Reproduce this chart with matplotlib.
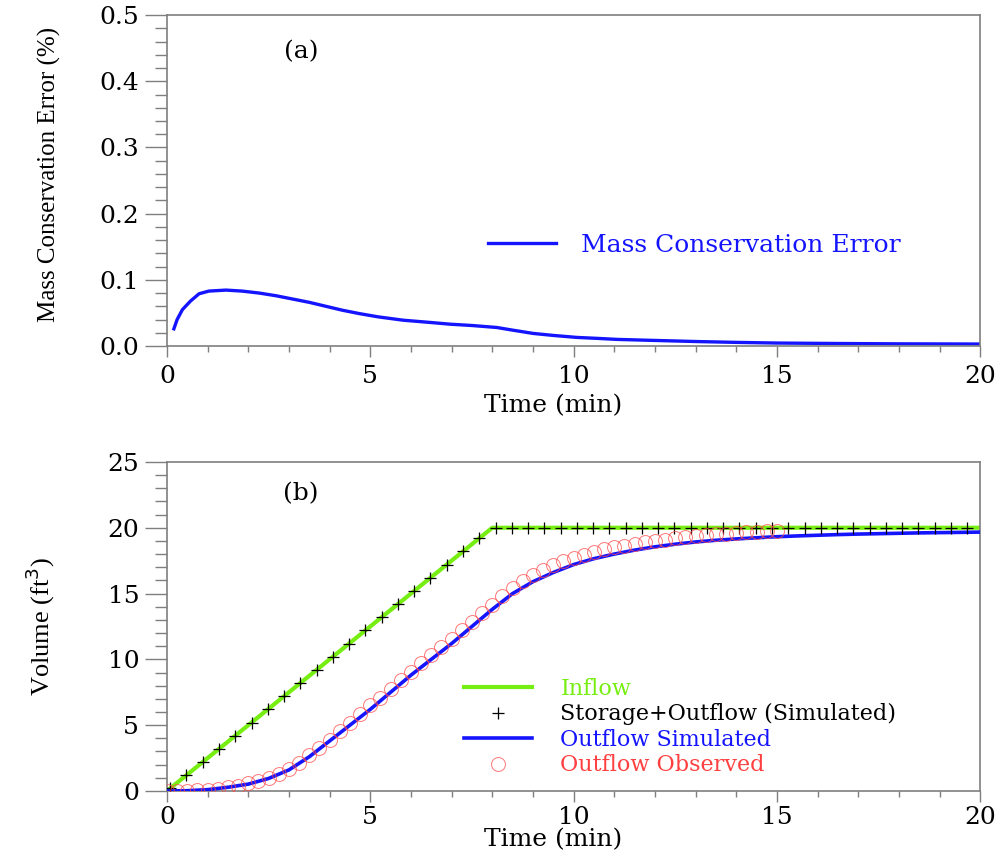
import matplotlib
matplotlib.use("Agg")
import matplotlib.pyplot as plt
from matplotlib.ticker import MultipleLocator

# panel (a): mass conservation error (%)
err_time = [0.17, 0.25, 0.38, 0.58, 0.79, 1.03, 1.45, 1.85, 2.27, 2.68, 3.09, 3.5, 3.91,
            4.32, 4.73, 5.2, 5.81, 6.4, 6.96, 7.5, 8.11, 8.5, 9.01, 9.5, 10.08, 10.6, 11.07,
            11.9, 13.0, 14.0, 15.0, 16.5, 18.0, 20.0]
err_value = [0.026, 0.04, 0.055, 0.068, 0.079, 0.083, 0.0845, 0.083, 0.080, 0.076, 0.071,
             0.066, 0.060, 0.054, 0.049, 0.044, 0.039, 0.036, 0.033, 0.031, 0.028, 0.024,
             0.019, 0.016, 0.013, 0.0115, 0.010, 0.0086, 0.0068, 0.0055, 0.0045, 0.0038,
             0.0033, 0.003]

# panel (b): volumes (ft^3)
inflow_time = [0, 8, 20]
inflow_vol = [0, 20, 20]

stor_time = [0.08, 0.48, 0.88, 1.28, 1.68, 2.08, 2.48, 2.88, 3.28, 3.68, 4.08, 4.48, 4.88,
             5.28, 5.68, 6.08, 6.48, 6.88, 7.28, 7.68, 8.08, 8.48, 8.88, 9.28, 9.68, 10.08,
             10.48, 10.88, 11.28, 11.68, 12.08, 12.48, 12.88, 13.28, 13.68, 14.08, 14.48,
             14.88, 15.28, 15.68, 16.08, 16.48, 16.88, 17.28, 17.68, 18.08, 18.48, 18.88,
             19.28, 19.68]
stor_vol = [0.2, 1.2, 2.2, 3.2, 4.2, 5.2, 6.2, 7.2, 8.2, 9.2, 10.2, 11.2, 12.2, 13.2, 14.2,
            15.2, 16.2, 17.2, 18.2, 19.2, 20.0, 20.0, 20.0, 20.0, 20.0, 20.0, 20.0, 20.0,
            20.0, 20.0, 20.0, 20.0, 20.0, 20.0, 20.0, 20.0, 20.0, 20.0, 20.0, 20.0, 20.0,
            20.0, 20.0, 20.0, 20.0, 20.0, 20.0, 20.0, 20.0, 20.0]

sim_time = [0, 0.5, 1, 1.5, 2, 2.5, 3, 3.5, 4, 4.5, 5, 5.5, 6, 6.5, 7, 7.5, 8, 8.5, 9, 9.5,
            10, 10.5, 11, 11.5, 12, 12.5, 13, 13.5, 14, 14.5, 15, 15.5, 16, 16.5, 17, 17.5,
            18, 18.5, 19, 19.5, 20]
sim_vol = [0, 0.02, 0.1, 0.28, 0.52, 0.95, 1.6, 2.6, 3.8, 5.0, 6.2, 7.5, 8.8, 10.0, 11.2,
           12.5, 13.8, 15.0, 15.9, 16.6, 17.2, 17.65, 18.0, 18.3, 18.55, 18.75, 18.92, 19.05,
           19.15, 19.24, 19.32, 19.38, 19.43, 19.48, 19.52, 19.55, 19.58, 19.61, 19.63,
           19.65, 19.67]

obs_time = [0, 0.25, 0.5, 0.75, 1, 1.25, 1.5, 1.75, 2, 2.25, 2.5, 2.75, 3, 3.25, 3.5, 3.75,
            4, 4.25, 4.5, 4.75, 5, 5.25, 5.5, 5.75, 6, 6.25, 6.5, 6.75, 7, 7.25, 7.5, 7.75,
            8, 8.25, 8.5, 8.75, 9, 9.25, 9.5, 9.75, 10, 10.25, 10.5, 10.75, 11, 11.25, 11.5,
            11.75, 12, 12.25, 12.5, 12.75, 13, 13.25, 13.5, 13.75, 14, 14.25, 14.5, 14.75, 15]
obs_vol = [0, 0, 0.02, 0.05, 0.1, 0.17, 0.28, 0.4, 0.58, 0.78, 1.02, 1.3, 1.7, 2.15, 2.7,
           3.3, 3.9, 4.55, 5.2, 5.85, 6.5, 7.1, 7.75, 8.4, 9.05, 9.7, 10.3, 10.95, 11.55,
           12.2, 12.85, 13.5, 14.15, 14.8, 15.4, 15.95, 16.4, 16.8, 17.15, 17.45, 17.7,
           17.95, 18.15, 18.35, 18.5, 18.65, 18.8, 18.9, 19.0, 19.1, 19.2, 19.3, 19.35,
           19.42, 19.5, 19.55, 19.6, 19.65, 19.7, 19.72, 19.75]

plt.rcParams['font.family'] = ['DejaVu Serif']
spineColor = '#7f7f7f'
blue = '#1414ff'
green = '#77ee11'

fig = plt.figure(figsize=(10.04, 8.55), dpi=100)
axA = fig.add_axes([0.1663, 0.5953, 0.810, 0.387])
axB = fig.add_axes([0.1663, 0.0749, 0.810, 0.3848])


def style_axes(ax, xpad):
    for spine in ax.spines.values():
        spine.set_edgecolor(spineColor)
        spine.set_linewidth(1.2)
    ax.xaxis.set_major_locator(MultipleLocator(5))
    ax.xaxis.set_minor_locator(MultipleLocator(1))
    ax.tick_params(axis='y', which='major', direction='out', length=16, width=1, color=spineColor, labelsize=18, pad=4)
    ax.tick_params(axis='y', which='minor', direction='out', length=9, width=1, color=spineColor)
    ax.tick_params(axis='x', which='major', direction='out', length=8, width=1, color=spineColor, labelsize=18, pad=xpad)
    ax.tick_params(axis='x', which='minor', direction='out', length=4, width=1, color=spineColor)
    ax.set_xlim(0, 20)
    ax.set_xlabel('Time (min)', fontsize=18)


# Panel (a)
style_axes(axA, 6)
axA.set_ylim(0, 0.5)
axA.yaxis.set_major_locator(MultipleLocator(0.1))
axA.yaxis.set_minor_locator(MultipleLocator(0.02))
axA.yaxis.set_major_formatter(plt.FormatStrFormatter('%.1f'))
axA.plot(err_time, err_value, color=blue, lw=2.4, label='Mass Conservation Error')
axA.set_ylabel('Mass Conservation Error (%)', family='Liberation Serif', fontsize=18)
axA.yaxis.set_label_coords(-0.13, 0.52)
axA.xaxis.set_label_coords(0.475, -0.145)
axA.text(3.3, 0.445, '(a)', fontsize=18, ha='center', va='center')
axA.legend(loc='upper left', bbox_to_anchor=(0.367, 0.408), frameon=False, fontsize=18,
           handlelength=2.72, handletextpad=1.0, labelcolor=[blue])

# Panel (b)
style_axes(axB, 3)
axB.set_ylim(0, 25)
axB.yaxis.set_major_locator(MultipleLocator(5))
axB.yaxis.set_minor_locator(MultipleLocator(1))
axB.plot(inflow_time, inflow_vol, color=green, lw=3, label='Inflow', zorder=2)
axB.plot(stor_time, stor_vol, linestyle='none', marker='+', markersize=9, markeredgewidth=0.9,
         color='black', label='Storage+Outflow (Simulated)', zorder=4)
axB.plot(sim_time, sim_vol, color=blue, lw=2.6, label='Outflow Simulated', zorder=3)
axB.plot(obs_time, obs_vol, linestyle='none', marker='o', markersize=10, fillstyle='none',
         markeredgewidth=0.7, color='#ff4a4a', alpha=0.75, label='Outflow Observed', zorder=5)
axB.set_ylabel('Volume (ft$^3$)', family='Liberation Serif', fontsize=19)
axB.yaxis.set_label_coords(-0.135, 0.5)
axB.xaxis.set_label_coords(0.475, -0.113)
axB.text(3.3, 22.6, '(b)', fontsize=18, ha='center', va='center')
axB.legend(loc='upper left', bbox_to_anchor=(0.341, 0.405), frameon=False, fontsize=16,
           handlelength=3.06, handletextpad=1.26, labelspacing=0.16,
           labelcolor=[green, 'black', blue, '#ff4040'])

fig.savefig('out.png', dpi=100, facecolor='white')
